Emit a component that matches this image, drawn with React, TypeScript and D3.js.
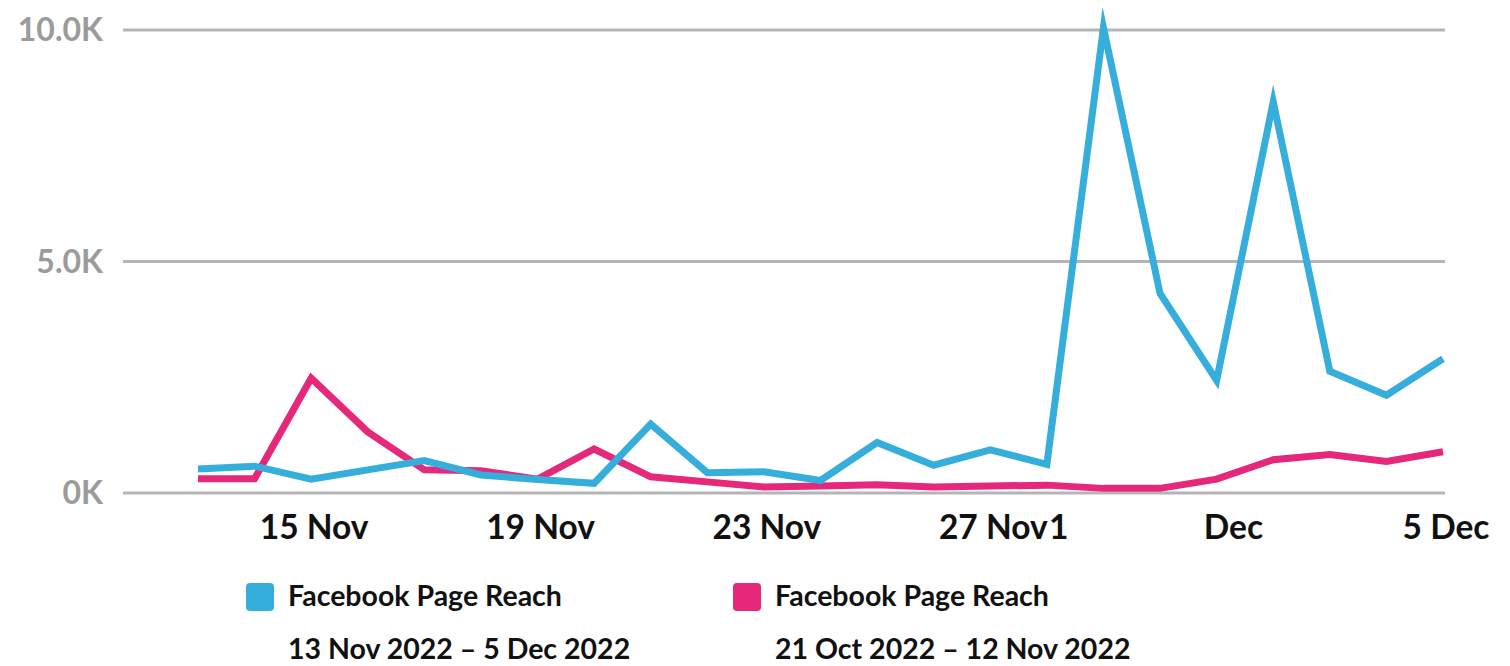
import React, { useRef, useEffect } from "react";
import * as d3 from "d3";

const days = [
  "13 Nov", "14 Nov", "15 Nov", "16 Nov", "17 Nov", "18 Nov", "19 Nov", "20 Nov",
  "21 Nov", "22 Nov", "23 Nov", "24 Nov", "25 Nov", "26 Nov", "27 Nov", "28 Nov",
  "29 Nov", "30 Nov", "1 Dec", "2 Dec", "3 Dec", "4 Dec", "5 Dec",
];
const currentReach = [
  520, 580, 300, 500, 700, 390, 290, 210, 1490, 440, 460, 270,
  1090, 600, 930, 620, 10050, 4310, 2430, 8450, 2630, 2110, 2900,
];
const previousReach = [
  310, 310, 2480, 1320, 500, 480, 300, 950, 350, 240, 130, 150,
  180, 130, 150, 170, 100, 100, 300, 720, 830, 680, 890,
];
const tickLabels = ["15 Nov", "19 Nov", "23 Nov", "27 Nov", "1 Dec", "5 Dec"];
const yTicks = [0, 5000, 10000];
const legendItems = [
  { name: "Facebook Page Reach", range: "13 Nov 2022 – 5 Dec 2022", color: "#36aedb" },
  { name: "Facebook Page Reach", range: "21 Oct 2022 – 12 Nov 2022", color: "#e5287a" },
];

const W = 1510;
const H = 666;
const FONT = "Lato, 'Open Sans', sans-serif";

export default function App() {
  const ref = useRef<SVGSVGElement>(null);

  useEffect(() => {
    const svg = d3.select(ref.current);
    svg.selectAll("*").remove();

    const x = d3.scalePoint<string>().domain(days).range([198, 1443]);
    const y = d3.scaleLinear().domain([0, 10000]).range([493, 30]);

    // grid + y labels
    const grid = svg.append("g");
    grid
      .selectAll("line")
      .data(yTicks)
      .join("line")
      .attr("x1", 123)
      .attr("x2", 1445)
      .attr("y1", (d) => y(d))
      .attr("y2", (d) => y(d))
      .attr("stroke", "#b5b5b5")
      .attr("stroke-width", 3);
    grid
      .selectAll("text")
      .data(yTicks)
      .join("text")
      .attr("x", 103)
      .attr("y", (d) => y(d) + 11)
      .attr("text-anchor", "end")
      .attr("font-family", FONT)
      .attr("font-weight", 700)
      .attr("font-size", 32)
      .attr("fill", "#9b9b9b")
      .text((d) => (d === 0 ? "0K" : (d / 1000).toFixed(1) + "K"));

    // lines
    const line = d3
      .line<number>()
      .x((_, i) => x(days[i]) as number)
      .y((d) => y(d));
    const series = [
      { values: previousReach, color: legendItems[1].color },
      { values: currentReach, color: legendItems[0].color },
    ];
    svg
      .append("g")
      .selectAll("path")
      .data(series)
      .join("path")
      .attr("d", (d) => line(d.values))
      .attr("fill", "none")
      .attr("stroke", (d) => d.color)
      .attr("stroke-width", 7)
      .attr("stroke-linejoin", "miter")
      .attr("stroke-miterlimit", 10);

    // x tick labels
    const xg = svg.append("g");
    let prev: SVGTextElement | null = null;
    tickLabels.forEach((lab) => {
      const t = xg
        .append("text")
        .attr("x", (x(lab) as number) + 3)
        .attr("y", 539)
        .attr("text-anchor", "middle")
        .attr("font-family", FONT)
        .attr("font-weight", 700)
        .attr("font-size", 33.5)
        .attr("fill", "#111")
        .text(lab);
      if (lab === "1 Dec" && prev) {
        // the day number drifts next to the previous label, as in the source
        const bb = (t.node() as SVGTextElement).getBBox();
        const pb = prev.getBBox();
        t.attr("x", bb.x + bb.width).attr("text-anchor", "end").text("Dec");
        xg.append("text")
          .attr("x", pb.x + pb.width + 1)
          .attr("y", 539)
          .attr("font-family", FONT)
          .attr("font-weight", 700)
          .attr("font-size", 33.5)
          .attr("fill", "#111")
          .text("1");
      }
      prev = t.node() as SVGTextElement;
    });

    // legend
    const lg = svg
      .append("g")
      .selectAll("g")
      .data(legendItems)
      .join("g")
      .attr("transform", (_, i) => `translate(${246 + i * 487},0)`);
    lg.append("rect")
      .attr("x", 0)
      .attr("y", 583)
      .attr("width", 28)
      .attr("height", 28)
      .attr("rx", 4)
      .attr("fill", (d) => d.color);
    lg.append("text")
      .attr("x", 42)
      .attr("y", 606)
      .attr("font-family", FONT)
      .attr("font-weight", 700)
      .attr("font-size", 28.5)
      .attr("fill", "#111")
      .text((d) => d.name);
    lg.append("text")
      .attr("x", 42)
      .attr("y", 659)
      .attr("font-family", FONT)
      .attr("font-weight", 700)
      .attr("font-size", 28.5)
      .attr("fill", "#111")
      .text((d) => d.range);
  }, []);

  return (
    <div style={{ position: "absolute", left: 0, top: 0 }}>
      <svg ref={ref} width={W} height={H} style={{ display: "block", background: "#fff" }} />
    </div>
  );
}
